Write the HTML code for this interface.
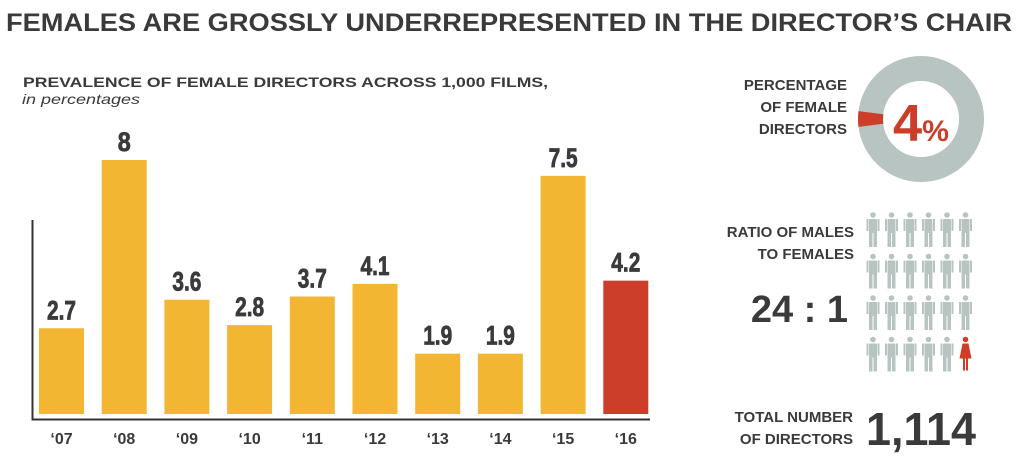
<!DOCTYPE html>
<html><head><meta charset="utf-8"><style>
body{margin:0;background:#fff;}
svg{display:block;}
text{font-family:"Liberation Sans",sans-serif;fill:#3a3a3a;}
</style></head><body>
<svg id="c" width="1020" height="461" viewBox="0 0 1020 461">
<text x="6" y="31" font-size="25" font-weight="bold" textLength="1006" lengthAdjust="spacingAndGlyphs">FEMALES ARE GROSSLY UNDERREPRESENTED IN THE DIRECTOR’S CHAIR</text>
<text x="23" y="87" font-size="14" font-weight="bold" textLength="525" lengthAdjust="spacingAndGlyphs">PREVALENCE OF FEMALE DIRECTORS ACROSS 1,000 FILMS,</text>
<text x="22" y="104" font-size="14" font-style="italic" textLength="118" lengthAdjust="spacingAndGlyphs">in percentages</text>
<g id="bars"></g>
<path d="M32.5 220 V419.5 H650" fill="none" stroke="#333" stroke-width="2"/>
<g>
<circle cx="921" cy="119" r="50.5" fill="none" stroke="#b8c4c2" stroke-width="25"/>
<path id="wedge" fill="#cc3d2a"/>
<text x="921" y="141" font-size="52" font-weight="bold" text-anchor="middle" style="fill:#cc3d2a" textLength="56" lengthAdjust="spacingAndGlyphs">4<tspan font-size="30">%</tspan></text>
</g>
<g font-size="15" font-weight="bold" text-anchor="end">
<text x="847" y="90">PERCENTAGE</text>
<text x="847" y="112">OF FEMALE</text>
<text x="847" y="134">DIRECTORS</text>
<text x="854" y="237">RATIO OF MALES</text>
<text x="854" y="259">TO FEMALES</text>
<text x="853" y="422">TOTAL NUMBER</text>
<text x="853" y="444">OF DIRECTORS</text>
</g>
<text x="848" y="322" font-size="38" font-weight="bold" text-anchor="end">24 : 1</text>
<text x="866" y="445" font-size="46" font-weight="bold" textLength="110" lengthAdjust="spacingAndGlyphs">1,114</text>
<g id="people"></g>
</svg>
<script>
const years=["‘07","‘08","‘09","‘10","‘11","‘12","‘13","‘14","‘15","‘16"];
const values=[2.7,8,3.6,2.8,3.7,4.1,1.9,1.9,7.5,4.2];
const labels=["2.7","8","3.6","2.8","3.7","4.1","1.9","1.9","7.5","4.2"];
const femalePct=[4];
const ratio=[24,1];
const NS="http://www.w3.org/2000/svg";
const x=i=>39+i*62.7, bw=45;
const y=v=>414-v*31.75;
const g=document.getElementById('bars');
function mk(t,a,p){const e=document.createElementNS(NS,t);for(const k in a)e.setAttribute(k,a[k]);p.appendChild(e);return e;}
values.forEach((v,i)=>{
 const r=mk('rect',{x:x(i),y:y(v),width:bw,height:414-y(v),fill:i==values.length-1?'#cc3d2a':'#f2b632'},g);
 
 
 const t=mk('text',{x:x(i)+bw/2,y:y(v)-9,'text-anchor':'middle','font-size':'27','font-weight':'bold',stroke:'#3a3a3a','stroke-width':'0.8',textLength:labels[i].length>1?'29':'13',lengthAdjust:'spacingAndGlyphs'},g);
 t.textContent=labels[i];
 
 
 const l=mk('text',{x:x(i)+bw/2,y:444,'text-anchor':'middle','font-size':'16','font-weight':'bold'},g);
 l.textContent=years[i];
 
 
});
(function(){const cx=921,cy=119,ro=63,ri=38,a=femalePct[0]/100*2*Math.PI,c=Math.PI;
const a1=c-a/2,a2=c+a/2,p=(r,t)=>(cx+r*Math.cos(t))+' '+(cy+r*Math.sin(t));
document.getElementById('wedge').setAttribute('d','M'+p(ro,a1)+' A'+ro+' '+ro+' 0 0 1 '+p(ro,a2)+' L'+p(ri,a2)+' A'+ri+' '+ri+' 0 0 0 '+p(ri,a1)+'Z');})();
const pg=document.getElementById('people');
const total=ratio[0];
for(let k=0;k<total;k++){
 const col=k%6,row=Math.floor(k/6);
 const px=873+col*18.5,py=212+row*41.5;
 const fem=k>=total-ratio[1];
 const c=fem?'#cc3d2a':'#b8c4c2';
 const gg=mk('g',{fill:c},pg);
 
 
 mk('circle',{cx:px,cy:py+3,r:2.8},gg);
 if(fem){mk('path',{d:`M${px-3} ${py+7} H${px+3} L${px+6} ${py+22} H${px-6} Z`},gg);
  mk('rect',{x:px-2.5,y:py+22,width:2,height:12},gg);mk('rect',{x:px+0.5,y:py+22,width:2,height:12},gg);}
 else{mk('rect',{x:px-4,y:py+7,width:8,height:14,rx:1},gg);
  mk('rect',{x:px-6.5,y:py+7,width:2,height:12},gg);mk('rect',{x:px+4.5,y:py+7,width:2,height:12},gg);
  mk('rect',{x:px-4,y:py+20,width:3.5,height:15},gg);mk('rect',{x:px+0.5,y:py+20,width:3.5,height:15},gg);}
}
</script>
</body></html>
